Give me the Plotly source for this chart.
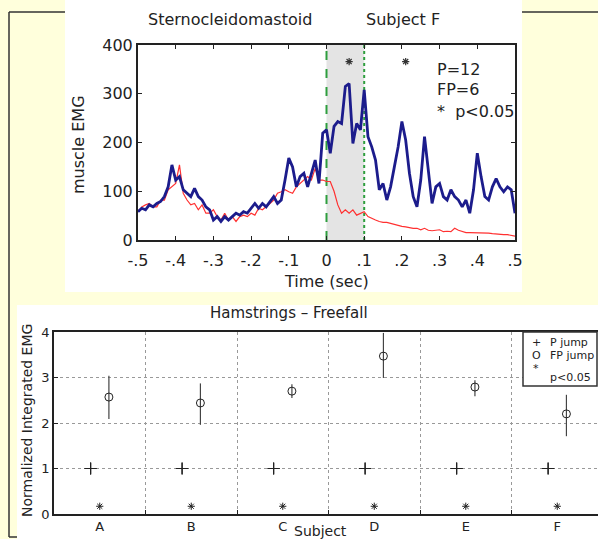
import numpy as np
import plotly.graph_objects as go

# ---------------- data: top chart (Sternocleidomastoid, subject F) ----------------
time_s = np.round(np.linspace(-0.5, 0.5, 101), 2)
emg_fp = [58, 65, 62, 72, 68, 75, 79, 89, 109, 154,
          123, 130, 103, 96, 89, 106, 89, 82, 68, 62,
          41, 48, 38, 48, 41, 48, 55, 51, 58, 55,
          65, 75, 65, 75, 68, 79, 89, 75, 82, 123,
          168, 150, 109, 130, 137, 109, 137, 164, 116, 219,
          226, 178, 233, 243, 239, 315, 321, 198, 239, 226,
          308, 212, 191, 164, 103, 116, 82, 109, 150, 191,
          243, 205, 137, 89, 68, 123, 212, 137, 75, 109,
          116, 89, 82, 103, 89, 82, 68, 82, 55, 103,
          178, 130, 89, 82, 109, 126, 109, 99, 109, 103,
          55]
emg_p = [58, 68, 72, 75, 68, 68, 82, 82, 103, 109,
         116, 154, 96, 82, 72, 75, 62, 72, 55, 55,
         62, 48, 41, 55, 41, 48, 38, 48, 51, 48,
         55, 51, 65, 62, 68, 75, 82, 96, 99, 103,
         99, 96, 109, 116, 123, 130, 123, 147, 123, 123,
         120, 120, 100, 72, 55, 62, 55, 62, 51, 55,
         58, 48, 44, 41, 38, 36, 36, 34, 31, 30,
         28, 27, 25, 24, 24, 21, 24, 20, 19, 20,
         21, 17, 18, 17, 24, 20, 17, 15, 15, 15,
         15, 14, 14, 14, 13, 12, 12, 11, 11, 10,
         8]
sig_time = [0.06, 0.21]
sig_emg = [366, 366]
time_ticks = [-0.5, -0.4, -0.3, -0.2, -0.1, 0.0, 0.1, 0.2, 0.3, 0.4, 0.5]
time_tick_text = ["-.5", "-.4", "-.3", "-.2", "-.1", "0", ".1", ".2", ".3", ".4", ".5"]
emg_ticks = [0, 100, 200, 300, 400]

# ---------------- data: bottom chart (Hamstrings - Freefall) ----------------
subjects = ["A", "B", "C", "D", "E", "F"]
p_jump = [1, 1, 1, 1, 1, 1]
p_jump_err = [0.12, 0.12, 0.12, 0.12, 0.12, 0.12]
fp_jump = [2.57, 2.44, 2.70, 3.47, 2.79, 2.20]
fp_err_plus = [0.47, 0.43, 0.15, 0.51, 0.15, 0.42]
fp_err_minus = [0.48, 0.48, 0.15, 0.48, 0.20, 0.49]
sig_level = [0.17, 0.17, 0.17, 0.17, 0.17, 0.17]
norm_ticks = [0, 1, 2, 3, 4]

# ---------------- layout helpers ----------------
W, H = 598, 539
def px(x):
    return x / W
def py(y):
    return 1 - y / H

FONT = "DejaVu Sans"
INK = "#222222"
idx = np.arange(1, len(subjects) + 1)

fig = go.Figure()

# top chart traces
fig.add_trace(go.Scatter(x=time_s, y=emg_p, mode="lines",
                         line=dict(color="#ff3030", width=1.2),
                         xaxis="x", yaxis="y", showlegend=False))
fig.add_trace(go.Scatter(x=time_s, y=emg_fp, mode="lines",
                         line=dict(color="#1c1c8c", width=2.8),
                         xaxis="x", yaxis="y", showlegend=False))
fig.add_trace(go.Scatter(x=sig_time, y=sig_emg, mode="markers",
                         marker=dict(symbol="asterisk-open", size=6, color="#333",
                                     line=dict(color="#333", width=1.2)),
                         xaxis="x", yaxis="y", showlegend=False))

# bottom chart traces
fig.add_trace(go.Scatter(x=idx - 0.1, y=p_jump, mode="markers",
                         marker=dict(symbol="cross-thin-open", size=9, color=INK,
                                     line=dict(color=INK, width=1.2)),
                         error_y=dict(type="data", array=p_jump_err, width=0,
                                      thickness=1.2, color=INK),
                         xaxis="x2", yaxis="y2", showlegend=False))
fig.add_trace(go.Scatter(x=idx + 0.1, y=fp_jump, mode="markers",
                         marker=dict(symbol="circle-open", size=8, color=INK,
                                     line=dict(color=INK, width=1)),
                         error_y=dict(type="data", symmetric=False,
                                      array=fp_err_plus, arrayminus=fp_err_minus,
                                      width=0, thickness=1.2, color="#444"),
                         xaxis="x2", yaxis="y2", showlegend=False))
fig.add_trace(go.Scatter(x=idx, y=sig_level, mode="markers",
                         marker=dict(symbol="asterisk-open", size=6, color=INK,
                                     line=dict(color=INK, width=1)),
                         xaxis="x2", yaxis="y2", showlegend=False))

shapes = [
    # yellow frame borders
    dict(type="line", xref="paper", yref="paper", x0=px(9), x1=1, y0=py(12), y1=py(12),
         line=dict(color="#333", width=1.5), layer="below"),
    dict(type="line", xref="paper", yref="paper", x0=px(9), x1=px(9), y0=py(12), y1=py(537),
         line=dict(color="#333", width=1.5), layer="below"),
    dict(type="line", xref="paper", yref="paper", x0=px(9), x1=px(17), y0=py(537), y1=py(537),
         line=dict(color="#333", width=1.5), layer="below"),
    # white panels
    dict(type="rect", xref="paper", yref="paper", x0=px(65), x1=px(522), y0=py(292), y1=1,
         fillcolor="white", line=dict(width=0), layer="below"),
    dict(type="rect", xref="paper", yref="paper", x0=px(17), x1=1, y0=0, y1=py(305),
         fillcolor="white", line=dict(width=0), layer="below"),
    # shaded window
    dict(type="rect", xref="x", yref="y", x0=0, x1=0.1, y0=0, y1=400,
         fillcolor="#e4e4e4", line=dict(width=0), layer="below"),
    dict(type="line", xref="x", yref="y", x0=0, x1=0, y0=0, y1=400,
         line=dict(color="#2e9e3e", width=2, dash="dash"), layer="below"),
    dict(type="line", xref="x", yref="y", x0=0.1, x1=0.1, y0=0, y1=400,
         line=dict(color="#2e9e3e", width=2, dash="dot"), layer="below"),
    # legend box of bottom chart
    dict(type="rect", xref="paper", yref="paper", x0=px(523), x1=px(597), y0=py(386), y1=py(332),
         fillcolor="white", line=dict(color="#333", width=1.5), layer="above"),
]

ann = []
def text(x, y, s, size, xanchor="center", textangle=0, xref="paper", yref="paper"):
    ann.append(dict(x=x, y=y, xref=xref, yref=yref, text=s, showarrow=False,
                    xanchor=xanchor, yanchor="middle", textangle=textangle,
                    font=dict(family=FONT, size=size, color=INK)))

# top chart texts
text(px(230), py(20), "Sternocleidomastoid", 16)
text(px(403), py(20), "Subject F", 16)
text(px(326), py(281), "Time (sec)", 16)
text(px(78), py(145), "muscle EMG", 16, textangle=-90)
text(0.288, 349, "P=12", 16, xanchor="left", xref="x", yref="y")
text(0.288, 308, "FP=6", 16, xanchor="left", xref="x", yref="y")
text(0.288, 263, "*  p<0.05", 16, xanchor="left", xref="x", yref="y")

# bottom chart texts
text(px(289), py(313), "Hamstrings \u2013 Freefall", 15)
text(px(320), py(531), "Subject", 14)
text(px(27), py(421), "Normalized Integrated EMG", 14, textangle=-90)
text(px(536), py(342), "+", 11)
text(px(548), py(342), "P jump", 11, xanchor="left")
text(px(536), py(355), "O", 11)
text(px(548), py(355), "FP jump", 11, xanchor="left")
text(px(536), py(368), "*", 11)
text(px(548), py(377), "p<0.05", 11, xanchor="left")

axis_common = dict(showline=True, linecolor=INK, zeroline=False, ticks="inside",
                   tickcolor=INK, ticklen=4, tickwidth=1, automargin=False)

fig.update_layout(
    template="none",
    width=W, height=H, margin=dict(l=0, r=0, t=0, b=0, pad=0, autoexpand=False),
    paper_bgcolor="#ffffdc", plot_bgcolor="white",
    shapes=shapes, annotations=ann, showlegend=False,
    xaxis=dict(domain=[px(138), px(515)], range=[-0.5, 0.5], anchor="y",
               tickvals=time_ticks, ticktext=time_tick_text, mirror="ticks",
               linewidth=2, showgrid=False, ticklabelstandoff=5,
               tickfont=dict(family=FONT, size=16, color=INK), **axis_common),
    yaxis=dict(domain=[py(240), py(45)], range=[0, 400], anchor="x",
               tickvals=emg_ticks, mirror="ticks", linewidth=2, showgrid=False,
               tickfont=dict(family=FONT, size=16, color=INK), **axis_common),
    xaxis2=dict(domain=[px(54), 1], range=[0.5, 6.445], anchor="y2",
                tickvals=list(idx), ticktext=subjects, mirror=True,
                showline=True, linecolor=INK, linewidth=1.5, zeroline=False,
                ticks="", showgrid=False, automargin=False,
                minor=dict(tickvals=[1.5, 2.5, 3.5, 4.5, 5.5], ticks="inside",
                           ticklen=4, tickcolor=INK, showgrid=True,
                           gridcolor="#999", griddash="dot", gridwidth=1),
                tickfont=dict(family=FONT, size=13, color=INK)),
    yaxis2=dict(domain=[py(514), py(332)], range=[0, 4], anchor="x2",
                tickvals=norm_ticks, mirror=True, linewidth=1.5, showgrid=True,
                gridcolor="#999", griddash="dot", gridwidth=1,
                tickfont=dict(family=FONT, size=13, color=INK), **axis_common),
)

fig.write_html("out.html", config={"displayModeBar": False},
               post_script="document.body.style.margin='0';document.body.style.overflow='hidden';")
